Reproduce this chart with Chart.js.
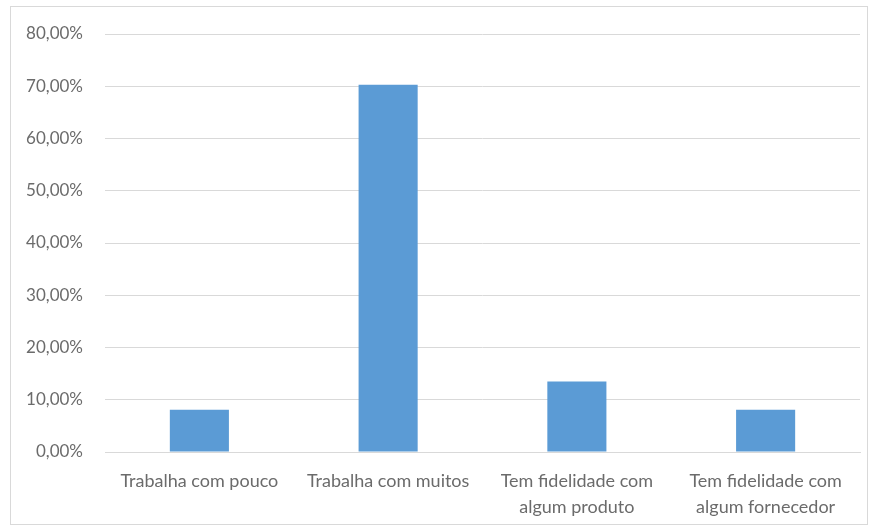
<!DOCTYPE html>
<html>
<head>
<meta charset="utf-8">
<script src="https://cdn.jsdelivr.net/npm/chart.js@4"></script>
<style>
  body { margin: 0; background: #fff; }
  #wrap { position: absolute; left: 0; top: 0; width: 874px; height: 529px; }
  #frame { position: absolute; left: 10px; top: 6px; width: 856px; height: 517px; border: 1px solid #d9d9d9; pointer-events: none; }
</style>
</head>
<body>
<div id="wrap"><canvas id="myChart" width="874" height="529"></canvas></div>
<div id="frame"></div>
<script>
var categories = [
  "Trabalha com pouco",
  "Trabalha com muitos",
  ["Tem fidelidade com", "algum produto"],
  ["Tem fidelidade com", "algum fornecedor"],
];
var values = [8.11, 70.27, 13.51, 8.11];
var yTicks = [0, 10, 20, 30, 40, 50, 60, 70, 80];

var ctx = document.getElementById("myChart").getContext("2d");

var myChart = new Chart(ctx, {
  type: "bar",
  data: {
    labels: categories,
    datasets: [
      {
        data: values,
        backgroundColor: "#5b9bd5",
        barPercentage: 0.313,
        categoryPercentage: 1.0,
      },
    ],
  },
  options: {
    responsive: false,
    animation: false,
    layout: {
      padding: { top: 34, right: 14, bottom: 0, left: 0 },
    },
    scales: {
      y: {
        min: 0,
        max: 80,
        afterFit: function (scale) {
          scale.width = 105;
        },
        afterBuildTicks: function (scale) {
          scale.ticks = yTicks.map(function (v) {
            return { value: v };
          });
        },
        border: { display: false },
        grid: { color: "#d9d9d9", drawTicks: false },
        ticks: {
          padding: 22,
          color: "#6b6b6b",
          font: { family: "Lato", size: 17 },
          callback: function (v) {
            return v.toFixed(2).replace(".", ",") + "%";
          },
        },
      },
      x: {
        afterFit: function (scale) {
          scale.height = 77;
        },
        border: { color: "#d9d9d9" },
        grid: { display: false, drawTicks: false },
        ticks: {
          padding: 16,
          color: "#6b6b6b",
          maxRotation: 0,
          autoSkip: false,
          font: { family: "Lato", size: 18, lineHeight: 1.45 },
        },
      },
    },
    plugins: {
      legend: { display: false },
      tooltip: { enabled: false },
    },
  },
});
</script>
</body>
</html>
